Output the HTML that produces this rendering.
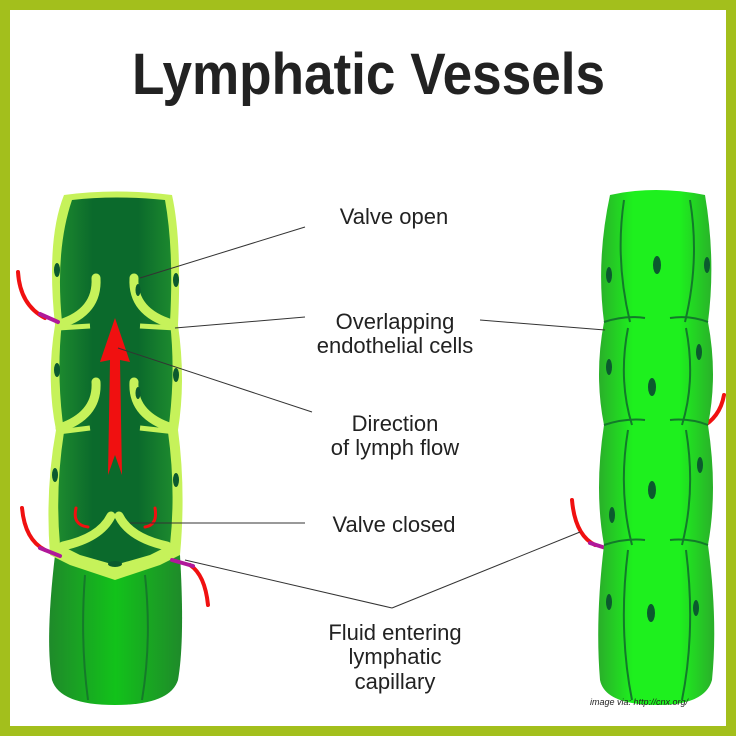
<!DOCTYPE html>
<html><head><meta charset="utf-8"><style>
html,body{margin:0;padding:0;background:#fff}
svg{display:block}
text{font-family:"Liberation Sans",sans-serif;fill:#222}
</style></head><body>
<svg width="736" height="736" viewBox="0 0 736 736" xmlns="http://www.w3.org/2000/svg">
<defs>
<linearGradient id="dk" x1="0" x2="1" y1="0" y2="0">
<stop offset="0" stop-color="#1d8a2e"/><stop offset="0.3" stop-color="#0b6a2c"/><stop offset="0.7" stop-color="#0b6a2c"/><stop offset="1" stop-color="#1d8a2e"/></linearGradient>
<linearGradient id="bt" x1="0" x2="1" y1="0" y2="0">
<stop offset="0" stop-color="#1f8a2a"/><stop offset="0.5" stop-color="#12c21a"/><stop offset="1" stop-color="#1f8a2a"/></linearGradient>
<linearGradient id="br" x1="0" x2="1" y1="0" y2="0">
<stop offset="0" stop-color="#2aae2a"/><stop offset="0.3" stop-color="#1ef01e"/><stop offset="0.7" stop-color="#1ef01e"/><stop offset="1" stop-color="#2aae2a"/></linearGradient>
</defs>
<rect x="0" y="0" width="736" height="736" fill="#a3bf1c"/>
<rect x="10" y="10" width="716" height="716" fill="#fff"/>
<text x="132" y="94" font-size="58" font-weight="bold" textLength="473" lengthAdjust="spacingAndGlyphs" fill="#333">Lymphatic Vessels</text>

<!-- left vessel -->
<path d="M55 555 L180 555 Q185 640 178 680 Q170 705 115 705 Q60 705 52 680 Q45 640 55 555Z" fill="url(#bt)"/>
<path d="M85 575 Q80 640 88 700 M145 575 Q152 640 142 700" stroke="#157a2a" stroke-width="2" fill="none"/>
<path d="M64 195 Q115 188 172 195 Q182 240 178 325 Q186 380 178 430 Q186 490 180 555 L160 565 L115 580 L70 565 L50 555 Q45 490 56 430 Q46 380 55 325 Q46 240 64 195Z" fill="#c6f25a"/>
<path d="M72 200 Q115 195 165 200 Q174 250 170 322 Q176 375 168 432 Q176 490 170 545 L150 555 L115 565 L80 555 L60 545 Q55 490 64 432 Q56 375 62 322 Q55 250 72 200Z" fill="url(#dk)"/>
<path d="M58 328 L90 326 M140 326 L176 328 M58 432 L90 428 M140 428 L176 432" stroke="#c6f25a" stroke-width="5"/>
<!-- valves -->
<g fill="none" stroke="#c6f25a" stroke-width="9" stroke-linecap="round">
<path d="M96 278 Q98 312 60 324"/><path d="M134 278 Q132 312 172 324"/>
<path d="M96 382 Q98 415 60 428"/><path d="M134 382 Q132 415 172 428"/>
<path d="M111 516 Q100 538 63 546"/><path d="M119 516 Q130 538 167 546"/>
</g>
<g fill="#0b5a2e">
<ellipse cx="57" cy="270" rx="3" ry="7"/><ellipse cx="176" cy="280" rx="3" ry="7"/>
<ellipse cx="57" cy="370" rx="3" ry="7"/><ellipse cx="176" cy="375" rx="3" ry="7"/>
<ellipse cx="55" cy="475" rx="3" ry="7"/><ellipse cx="176" cy="480" rx="3" ry="7"/>
<ellipse cx="115" cy="564" rx="7" ry="3"/>
<ellipse cx="138" cy="290" rx="2.5" ry="6"/><ellipse cx="138" cy="393" rx="2.5" ry="6"/>
</g>
<!-- flow arrow -->
<path d="M115 318 L130 362 L120 360 L122 475 L115 455 L108 475 L110 360 L100 362Z" fill="#f01010"/>
<!-- fluid arrows -->
<g fill="none" stroke-linecap="round">
<path d="M18 272 Q20 305 45 318" stroke="#f01010" stroke-width="4"/><path d="M40 314 L58 322" stroke="#b0189a" stroke-width="4"/>
<path d="M22 508 Q25 540 45 550" stroke="#f01010" stroke-width="4"/><path d="M40 548 L60 556" stroke="#b0189a" stroke-width="4"/>
<path d="M208 605 Q205 575 190 565" stroke="#f01010" stroke-width="4"/><path d="M193 566 L172 560" stroke="#b0189a" stroke-width="4"/>
<path d="M76 508 Q72 525 88 527" stroke="#f01010" stroke-width="3"/><path d="M155 508 Q158 525 145 527" stroke="#f01010" stroke-width="3"/>
<path d="M724 395 Q720 418 700 428" stroke="#f01010" stroke-width="4"/><path d="M706 426 L688 432" stroke="#b0189a" stroke-width="4"/>
<path d="M572 500 Q575 535 595 545" stroke="#f01010" stroke-width="4"/><path d="M590 543 L612 550" stroke="#b0189a" stroke-width="4"/>
</g>

<!-- right vessel -->
<path d="M610 195 Q655 185 705 195 Q716 260 708 322 Q718 375 708 425 Q718 490 708 545 Q718 620 712 680 Q705 705 658 705 Q605 705 600 680 Q595 620 604 545 Q594 490 604 425 Q594 375 604 322 Q596 260 610 195Z" fill="url(#br)"/>
<g fill="none" stroke="#127a2a" stroke-width="2">
<path d="M624 200 Q615 260 630 322 M690 200 Q700 260 685 322"/>
<path d="M628 328 Q618 380 632 425 M686 328 Q696 380 682 425"/>
<path d="M628 430 Q618 490 632 545 M686 430 Q696 490 682 545"/>
<path d="M628 550 Q618 630 632 700 M686 550 Q696 630 682 700"/>
<path d="M604 322 Q625 315 645 318 M670 318 Q690 315 708 322"/>
<path d="M604 425 Q625 418 645 420 M670 420 Q690 418 708 425"/>
<path d="M604 545 Q625 538 645 540 M670 540 Q690 538 708 545"/>
</g>
<g fill="#0b5a2e">
<ellipse cx="657" cy="265" rx="4" ry="9"/><ellipse cx="609" cy="275" rx="3" ry="8"/><ellipse cx="707" cy="265" rx="3" ry="8"/>
<ellipse cx="652" cy="387" rx="4" ry="9"/><ellipse cx="609" cy="367" rx="3" ry="8"/><ellipse cx="699" cy="352" rx="3" ry="8"/>
<ellipse cx="652" cy="490" rx="4" ry="9"/><ellipse cx="612" cy="515" rx="3" ry="8"/><ellipse cx="700" cy="465" rx="3" ry="8"/>
<ellipse cx="651" cy="613" rx="4" ry="9"/><ellipse cx="609" cy="602" rx="3" ry="8"/><ellipse cx="696" cy="608" rx="3" ry="8"/>
</g>

<!-- leader lines -->
<g stroke="#333" stroke-width="1" fill="none">
<path d="M305 227 L140 278"/>
<path d="M305 317 L175 328"/>
<path d="M480 320 L605 330"/>
<path d="M312 412 L118 348"/>
<path d="M305 523 L130 523"/>
<path d="M392 608 L185 560"/>
<path d="M392 608 L580 532"/>
</g>
<g font-size="22" text-anchor="middle">
<text x="394" y="224">Valve open</text>
<text x="395" y="329">Overlapping</text>
<text x="395" y="353">endothelial cells</text>
<text x="395" y="431">Direction</text>
<text x="395" y="455">of lymph flow</text>
<text x="394" y="532">Valve closed</text>
<text x="395" y="640">Fluid entering</text>
<text x="395" y="664">lymphatic</text>
<text x="395" y="689">capillary</text>
</g>
<text x="590" y="705" font-size="9" font-style="italic" fill="#333">image via: http://cnx.org/</text>
</svg>
</body></html>
